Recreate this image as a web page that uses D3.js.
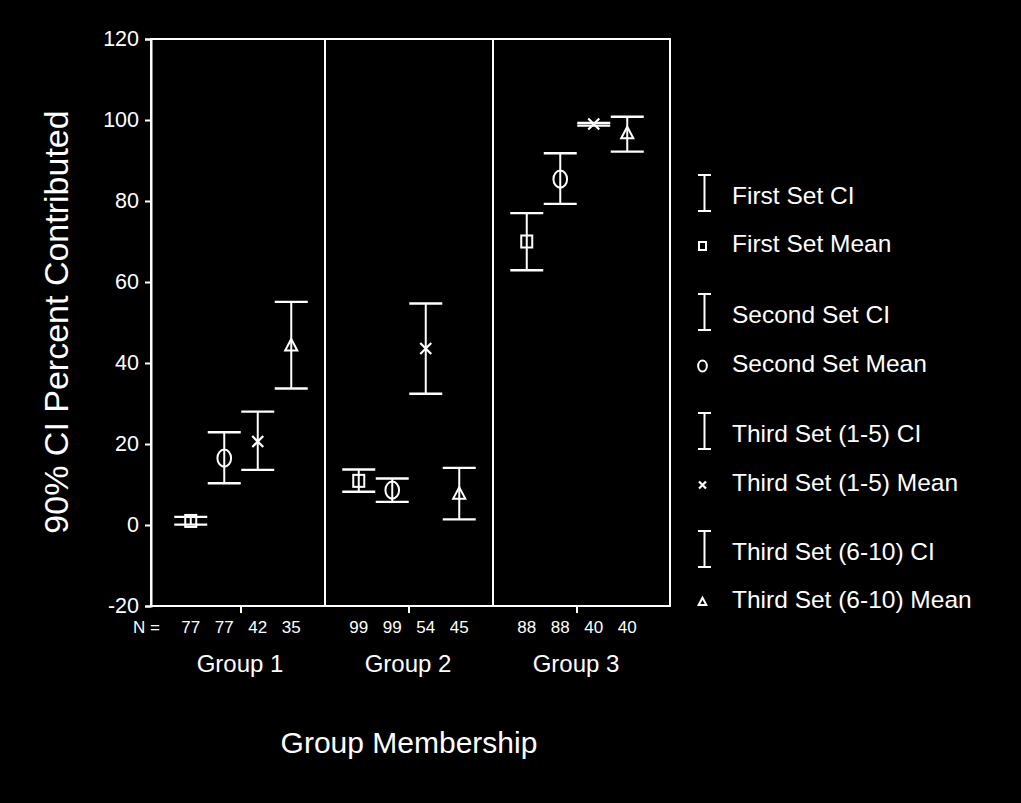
<!DOCTYPE html>
<html>
<head>
<meta charset="utf-8">
<script src="https://cdn.jsdelivr.net/npm/d3@7"></script>
<style>
  html, body { margin: 0; padding: 0; background: #000; }
  svg { display: block; }
  text { font-family: "Liberation Sans", Arial, sans-serif; fill: #fff; }
</style>
</head>
<body>
<svg id="chart" width="1021" height="803"></svg>
<script>
// ---- data ----
const groups = ["Group 1", "Group 2", "Group 3"];
const seriesNames = ["First Set", "Second Set", "Third Set (1-5)", "Third Set (6-10)"];
const seriesSymbols = ["square", "circle", "cross", "triangle"];
const nCounts = [[77, 77, 42, 35], [99, 99, 54, 45], [88, 88, 40, 40]];
const means  = [[1.0, 16.5, 20.6, 44.3], [10.9, 8.6, 43.6, 7.7], [70.0, 85.4, 99.0, 96.7]];
const lowerCI = [[0.1, 10.3, 13.6, 33.7], [8.2, 5.7, 32.4, 1.4], [62.9, 79.3, 98.6, 92.2]];
const upperCI = [[2.0, 22.9, 28.0, 55.1], [13.7, 11.5, 54.7, 14.1], [77.0, 91.8, 99.3, 100.8]];
const yTicks = [-20, 0, 20, 40, 60, 80, 100, 120];
const legendLabels = [
  "First Set CI", "First Set Mean",
  "Second Set CI", "Second Set Mean",
  "Third Set (1-5) CI", "Third Set (1-5) Mean",
  "Third Set (6-10) CI", "Third Set (6-10) Mean"
];
const yTitle = "90% CI Percent Contributed";
const xTitle = "Group Membership";

// ---- layout ----
const svg = d3.select("#chart");
svg.append("rect").attr("width", 1021).attr("height", 803).attr("fill", "#000");

const plotL = 151, plotR = 670, plotT = 39, plotB = 606;
const y = d3.scaleLinear().domain([-20, 120]).range([plotB, plotT]);
const x = d3.scaleBand().domain(groups).range([157, 661]).paddingInner(0).paddingOuter(0);
const xs = d3.scaleBand().domain(seriesNames).range([-67, 67]);
const capHalf = 16.5;
const W = "#fff";

const g = svg.append("g");

// frame
g.append("rect").attr("x", plotL).attr("y", plotT)
  .attr("width", plotR - plotL).attr("height", plotB - plotT)
  .attr("fill", "none").attr("stroke", W).attr("stroke-width", 2);

// group dividers
groups.slice(1).forEach(gr => {
  g.append("line").attr("x1", x(gr)).attr("x2", x(gr))
    .attr("y1", plotT).attr("y2", plotB)
    .attr("stroke", W).attr("stroke-width", 2);
});

// y axis
const yAxis = d3.axisLeft(y).tickValues(yTicks).tickSize(6).tickPadding(6).tickFormat(d => String(d));
const ya = g.append("g").attr("transform", `translate(${plotL},0)`).call(yAxis);
ya.select(".domain").attr("stroke", W).attr("stroke-width", 2);
ya.selectAll(".tick line").attr("stroke", W).attr("stroke-width", 2);
ya.selectAll(".tick text").attr("fill", W).style("font-size", "21.5px")
  .style("font-family", "'Liberation Sans', Arial, sans-serif");

// x axis ticks at group centers
const xAxis = d3.axisBottom(x).tickSize(7).tickFormat("");
const xa = g.append("g").attr("transform", `translate(0,${plotB})`).call(xAxis);
xa.select(".domain").remove();
xa.selectAll(".tick line").attr("stroke", W).attr("stroke-width", 2);

// error bars & means
function drawSymbol(sel, type, cx, cy, s) {
  if (type === "square") {
    sel.append("rect").attr("x", cx - s / 2).attr("y", cy - s / 2 - 0.5)
      .attr("width", s).attr("height", s + 1)
      .attr("fill", "none").attr("stroke", W).attr("stroke-width", 2);
  } else if (type === "circle") {
    sel.append("ellipse").attr("cx", cx).attr("cy", cy).attr("rx", s * 0.62).attr("ry", s * 0.78)
      .attr("fill", "none").attr("stroke", W).attr("stroke-width", 2);
  } else if (type === "cross") {
    const h = s * 0.5;
    sel.append("path").attr("d", `M${cx - h},${cy - h}L${cx + h},${cy + h}M${cx - h},${cy + h}L${cx + h},${cy - h}`)
      .attr("fill", "none").attr("stroke", W).attr("stroke-width", 2.2);
  } else if (type === "triangle") {
    const h = s * 0.55;
    sel.append("path").attr("d", `M${cx},${cy - h * 1.1}L${cx + h},${cy + h * 0.8}L${cx - h},${cy + h * 0.8}Z`)
      .attr("fill", "none").attr("stroke", W).attr("stroke-width", 2);
  }
}

groups.forEach((gr, gi) => {
  seriesNames.forEach((sn, si) => {
    const cx = x(gr) + x.bandwidth() / 2 + xs(sn) + xs.bandwidth() / 2;
    const lo = y(lowerCI[gi][si]), hi = y(upperCI[gi][si]), m = y(means[gi][si]);
    const eg = g.append("g");
    eg.append("line").attr("x1", cx).attr("x2", cx).attr("y1", hi).attr("y2", lo)
      .attr("stroke", W).attr("stroke-width", 2);
    [lo, hi].forEach(yy => {
      eg.append("line").attr("x1", cx - capHalf).attr("x2", cx + capHalf)
        .attr("y1", yy).attr("y2", yy).attr("stroke", W).attr("stroke-width", 2.4);
    });
    drawSymbol(eg, seriesSymbols[si], cx, m, 11);
    // N label
    g.append("text").attr("x", cx).attr("y", 633).attr("text-anchor", "middle")
      .style("font-size", "17px").text(nCounts[gi][si]);
  });
  g.append("text").attr("x", x(gr) + x.bandwidth() / 2 - 1).attr("y", 672)
    .attr("text-anchor", "middle").style("font-size", "24px").text(gr);
});

g.append("text").attr("x", 160).attr("y", 633).attr("text-anchor", "end")
  .style("font-size", "17px").text("N =");

// axis titles
g.append("text").attr("transform", "translate(68,322) rotate(-90)")
  .attr("text-anchor", "middle").style("font-size", "34px").text(yTitle);
g.append("text").attr("x", 409).attr("y", 753).attr("text-anchor", "middle")
  .style("font-size", "30px").text(xTitle);

// legend
const legBase = [204, 252, 323, 372, 442, 491, 560, 608];
const legX = 704.5, legTextX = 732;
legendLabels.forEach((lab, i) => {
  const b = legBase[i];
  if (i % 2 === 0) {
    g.append("line").attr("x1", legX).attr("x2", legX).attr("y1", b - 29).attr("y2", b + 7)
      .attr("stroke", W).attr("stroke-width", 2);
    [b - 29, b + 7].forEach(yy => g.append("line").attr("x1", legX - 6.5).attr("x2", legX + 6.5)
      .attr("y1", yy).attr("y2", yy).attr("stroke", W).attr("stroke-width", 2));
  } else {
    drawSymbol(g, seriesSymbols[(i - 1) / 2], legX - 2, b - 6, 7);
  }
  g.append("text").attr("x", legTextX).attr("y", b).style("font-size", "24.5px").text(lab);
});
</script>
</body>
</html>
